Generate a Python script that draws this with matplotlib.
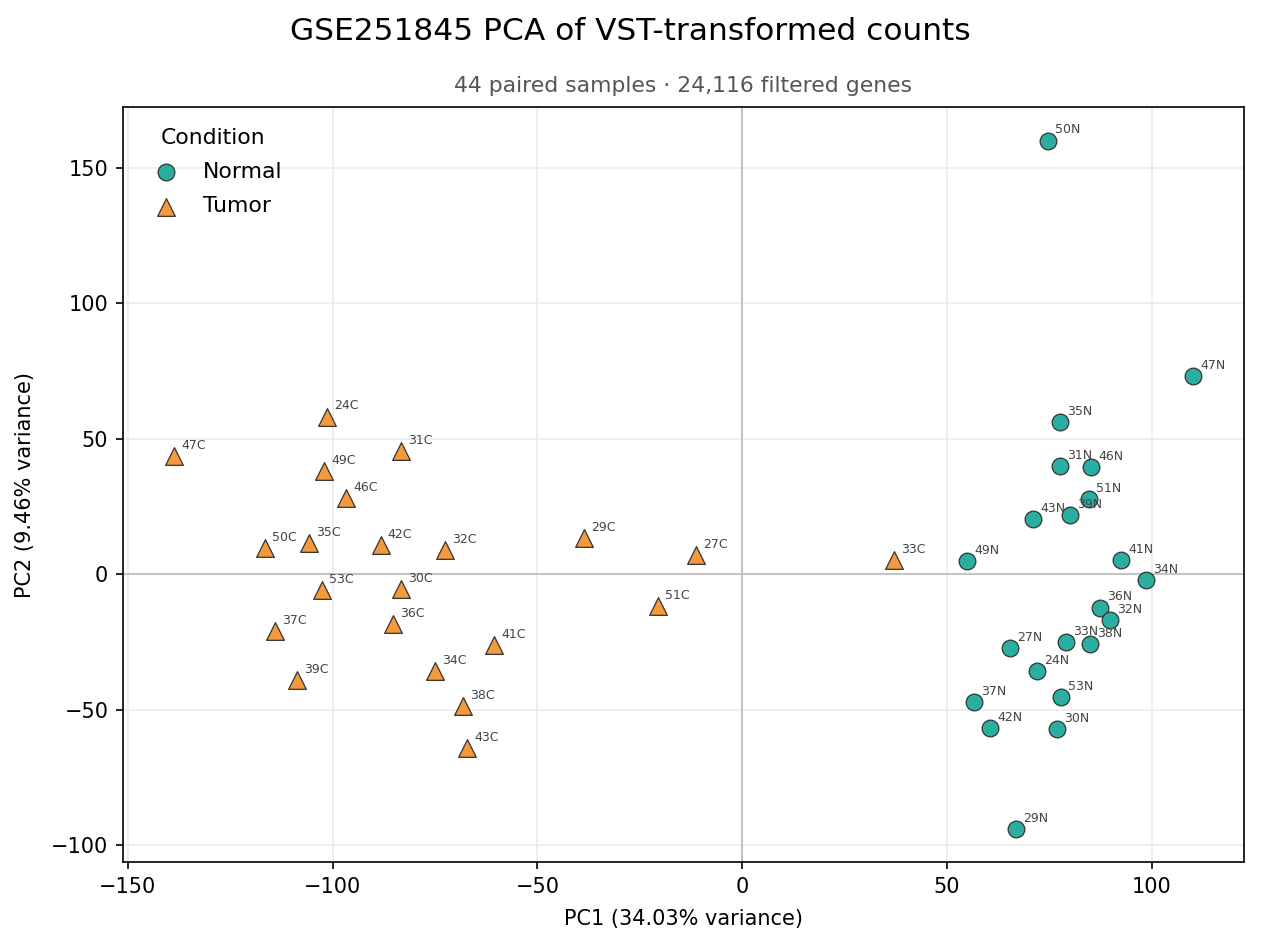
import matplotlib
matplotlib.use("Agg")
import matplotlib.pyplot as plt

normal_labels = ["50N", "47N", "35N", "31N", "46N", "51N", "43N", "39N", "49N", "41N", "34N",
                 "36N", "32N", "27N", "33N", "38N", "24N", "37N", "53N", "42N", "30N", "29N"]
normal_pc1 = [74.6, 110.0, 77.5, 77.5, 85.1, 84.6, 70.9, 80.0, 54.8, 92.4, 98.5,
              87.3, 89.7, 65.3, 79.1, 84.9, 71.9, 56.5, 77.8, 60.4, 76.9, 66.8]
normal_pc2 = [160.0, 73.2, 56.2, 40.0, 39.6, 27.8, 20.4, 21.9, 4.9, 5.2, -2.1,
              -12.4, -16.9, -27.2, -25.0, -25.8, -35.7, -47.2, -45.4, -56.8, -57.2, -94.1]

tumor_labels = ["47C", "24C", "49C", "31C", "46C", "50C", "35C", "42C", "32C", "29C", "27C",
                "33C", "53C", "30C", "36C", "37C", "51C", "41C", "34C", "39C", "38C", "43C"]
tumor_pc1 = [-138.8, -101.5, -102.2, -83.4, -96.8, -116.6, -105.8, -88.3, -72.6, -38.7, -11.3,
             37.0, -102.7, -83.4, -85.3, -114.1, -20.6, -60.7, -75.1, -108.8, -68.2, -67.2]
tumor_pc2 = [43.6, 58.1, 38.1, 45.5, 28.1, 9.7, 11.5, 10.8, 8.9, 13.4, 7.1,
             5.2, -5.8, -5.5, -18.4, -21.0, -11.7, -26.1, -35.7, -39.0, -48.7, -64.2]

title = "GSE251845 PCA of VST-transformed counts"
subtitle = "44 paired samples \u00b7 24,116 filtered genes"
xlabel = "PC1 (34.03% variance)"
ylabel = "PC2 (9.46% variance)"

fig = plt.figure(figsize=(1261 / 150, 948 / 150), dpi=150)
ax = fig.add_axes([0.0975, 0.0907, 0.889, 0.7964])
ax.set_axisbelow(True)

ax.grid(True, color="#ebebeb", linewidth=0.8)
ax.axhline(0, color="#c4c4c4", linewidth=1.0, zorder=2)
ax.axvline(0, color="#c4c4c4", linewidth=1.0, zorder=2)

ax.scatter(normal_pc1, normal_pc2, s=64, marker="o", color="#2aae9f", edgecolor="#333333",
           linewidth=0.6, label="Normal", zorder=3)
ax.scatter(tumor_pc1, tumor_pc2, s=72, marker="^", color="#f4993c", edgecolor="#333333",
           linewidth=0.6, label="Tumor", zorder=3)

for lab, x, y in zip(normal_labels, normal_pc1, normal_pc2):
    ax.annotate(lab, (x, y), xytext=(3.5, 2), textcoords="offset points", fontsize=6,
                color="#444444", ha="left", va="bottom", zorder=4)
for lab, x, y in zip(tumor_labels, tumor_pc1, tumor_pc2):
    ax.annotate(lab, (x, y), xytext=(3.5, 2), textcoords="offset points", fontsize=6,
                color="#444444", ha="left", va="bottom", zorder=4)

ax.set_xlim(-151.2, 122.5)
ax.set_ylim(-106.3, 172.4)
ax.set_xticks([-150, -100, -50, 0, 50, 100])
ax.set_yticks([-100, -50, 0, 50, 100, 150])
ax.tick_params(labelsize=10)
ax.set_xlabel(xlabel, fontsize=10, labelpad=6)
ax.set_ylabel(ylabel, fontsize=10, labelpad=7.5)
ax.set_title(subtitle, fontsize=10.5, color="#555555", pad=7)
fig.suptitle(title, fontsize=15, y=0.982)

leg = ax.legend(title="Condition", loc="upper left", frameon=False, fontsize=10.5,
                title_fontsize=10.5, handletextpad=0.7, borderaxespad=0.55, labelspacing=0.65)

fig.savefig("out.png", dpi=150)
